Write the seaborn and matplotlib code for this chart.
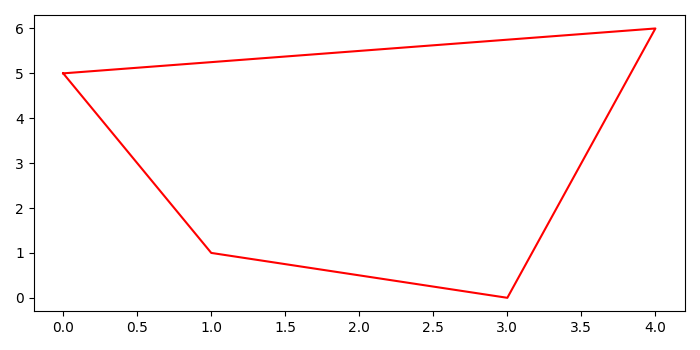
import matplotlib
matplotlib.use("Agg")
import matplotlib.pyplot as plt
import seaborn as sns
import pandas as pd

xs = [0, 1, 3, 4, 0]
ys = [5, 1, 0, 6, 5]
order = [0, 1, 2, 3, 4]

df = pd.DataFrame({"x": xs, "y": ys, "order": order})

fig, ax = plt.subplots(figsize=(7, 3.5), dpi=100)
sns.lineplot(data=df, x="x", y="y", sort=False, estimator=None, color="red", ax=ax, linewidth=1.5)
ax.set_xlabel("")
ax.set_ylabel("")
fig.tight_layout()
fig.savefig("out.png")
